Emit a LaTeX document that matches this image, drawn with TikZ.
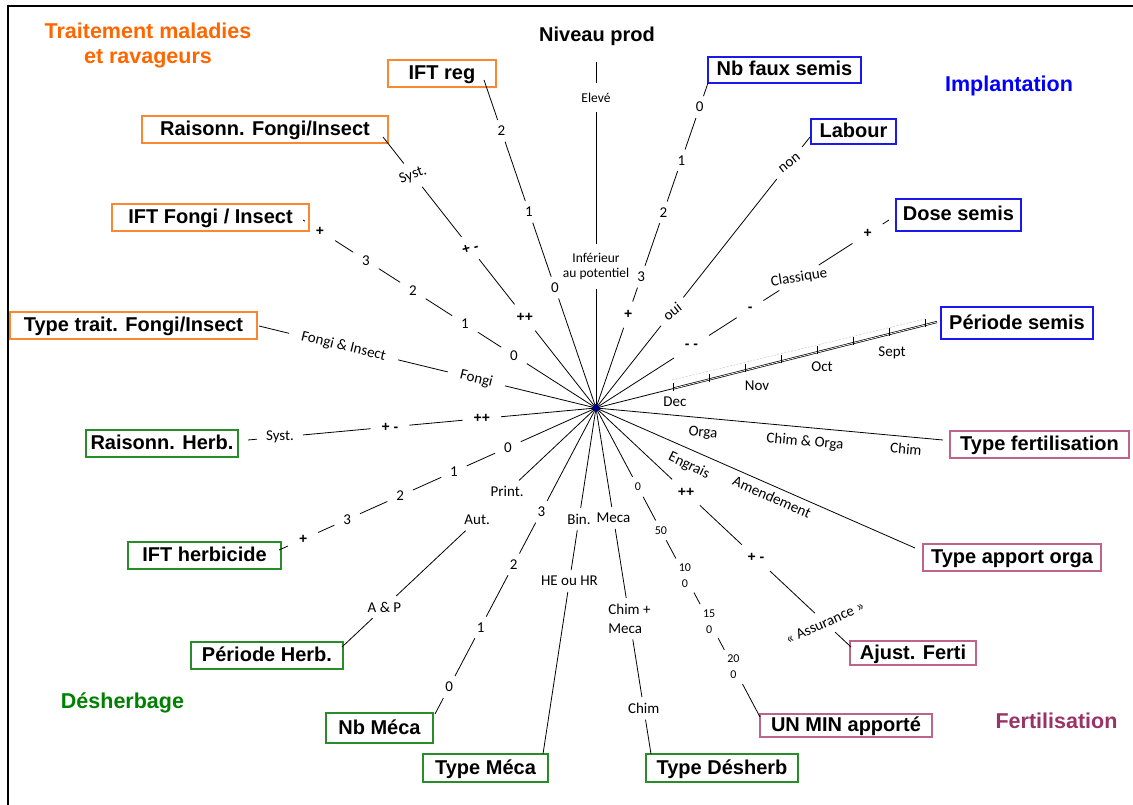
\documentclass[tikz,border=0pt]{standalone}
\usepackage{fontspec}
\setmainfont{Liberation Sans}
\newfontfamily\carl{Carlito}
\usetikzlibrary{calc,shapes.geometric}
\definecolor{orgT}{RGB}{255,102,0}
\definecolor{orgB}{RGB}{250,135,50}
\definecolor{bluT}{RGB}{0,0,255}
\definecolor{bluB}{RGB}{25,25,235}
\definecolor{grnT}{RGB}{0,128,0}
\definecolor{grnB}{RGB}{40,140,40}
\definecolor{ferT}{RGB}{153,51,102}
\definecolor{ferB}{RGB}{190,100,140}
\definecolor{ctrblue}{RGB}{0,0,128}
\begin{document}
\begin{tikzpicture}[x=1pt,y=-1pt,
  spoke/.style={line width=0.8pt},
  box/.style={draw, line width=1.1pt, font=\fontsize{20}{22}\selectfont\bfseries, inner sep=0pt, text height=15pt, text depth=3pt},
  lab/.style={font=\carl\fontsize{15}{17}\selectfont, inner sep=1pt, outer xsep=8pt, outer ysep=5pt},
  sml/.style={font=\carl\fontsize{13.5}{15}\selectfont, inner sep=1pt, outer xsep=9pt, outer ysep=8.5pt, align=center},
  tny/.style={font=\carl\fontsize{12}{16}\selectfont, inner sep=1pt, outer xsep=2pt, outer ysep=5pt, align=center},
  sgn/.style={font=\fontsize{14}{16}\selectfont\bfseries, inner sep=1pt, outer xsep=10pt, outer ysep=8pt},
  rlab/.style={font=\carl\fontsize{15}{17}\selectfont, inner sep=1pt, outer xsep=7pt, outer ysep=2pt},
  side/.style={font=\carl\fontsize{15}{17}\selectfont, inner sep=1pt},
  cat/.style={font=\fontsize{21.5}{25}\selectfont\bfseries, align=center},
]
\useasboundingbox (0,0) rectangle (1133,805);
\draw[line width=2.5pt] (8,812) -- (8,6) -- (1140,6);

% category titles
\node[cat, text=orgT] (tTrait) at (148,45) {Traitement maladies\\et ravageurs};
\node[cat, text=bluT] (tImpl) at (1009,86) {Implantation};
\node[cat, text=grnT] (tDesh) at (122.5,703) {Désherbage};
\node[cat, text=ferT] (tFert) at (1056.5,721) {Fertilisation};
\node[font=\fontsize{20}{22}\selectfont\bfseries] (tNiv) at (597,36.5) {Niveau prod};

% boxes
\node[box, draw=orgB, minimum width=108pt, minimum height=27pt] (bIFTreg) at (442,73.5) {IFT reg};
\node[box, draw=bluB, minimum width=153pt, minimum height=26pt] (bFaux) at (784.5,70) {Nb faux semis};
\node[box, draw=bluB, minimum width=85pt, minimum height=25pt] (bLabour) at (853.5,131.5) {Labour};
\node[box, draw=bluB, minimum width=125pt, minimum height=32pt] (bDose) at (958.5,215) {Dose semis};
\node[box, draw=bluB, minimum width=152pt, minimum height=32pt] (bPer) at (1017,323) {Période semis};
\node[box, draw=ferB, minimum width=179pt, minimum height=27pt] (bTypeF) at (1039.5,444.5) {Type fertilisation};
\node[box, draw=ferB, minimum width=178pt, minimum height=27pt] (bApport) at (1012,557.5) {Type apport orga};
\node[box, draw=ferB, minimum width=126pt, minimum height=24pt] (bAjust) at (913,653) {Ajust. Ferti};
\node[box, draw=ferB, minimum width=172pt, minimum height=23pt] (bUN) at (846,725.5) {UN MIN apporté};
\node[box, draw=grnB, minimum width=152pt, minimum height=28pt] (bTDes) at (722,768) {Type Désherb};
\node[box, draw=grnB, minimum width=125pt, minimum height=28pt] (bTMeca) at (485.5,768) {Type Méca};
\node[box, draw=grnB, minimum width=107pt, minimum height=30pt] (bNbMeca) at (379.5,728) {Nb Méca};
\node[box, draw=grnB, minimum width=152pt, minimum height=27pt] (bPHerb) at (267,655.5) {Période Herb.};
\node[box, draw=grnB, minimum width=153pt, minimum height=27pt] (bIFTH) at (204.5,555.5) {IFT herbicide};
\node[box, draw=grnB, minimum width=152pt, minimum height=27pt] (bRHerb) at (162,443.5) {Raisonn. Herb.};
\node[box, draw=orgB, minimum width=247pt, minimum height=27pt] (bTTrait) at (133.5,325.5) {Type trait. Fongi/Insect};
\node[box, draw=orgB, minimum width=197pt, minimum height=27pt] (bIFTF) at (210.5,217.5) {IFT Fongi / Insect};
\node[box, draw=orgB, minimum width=246pt, minimum height=27pt] (bRFongi) at (265,129.5) {Raisonn. Fongi/Insect};

% centre and spoke ends
\coordinate (C) at (596,408);
\coordinate (eA) at (596,62);
\coordinate (eB) at (708,83);
\coordinate (eC) at (810,137);
\coordinate (eD) at (889,220);
\coordinate (eE) at (937,322);
\coordinate (eF) at (943,440);
\coordinate (eG) at (915,548);
\coordinate (eH) at (851,647);
\coordinate (eI) at (760,717);
\coordinate (eJ) at (651,754);
\coordinate (eK) at (543,754);
\coordinate (eL) at (435,714);
\coordinate (eM) at (342,647);
\coordinate (eN) at (279,550);
\coordinate (eO) at (248,440);
\coordinate (eP) at (259,326);
\coordinate (eQ) at (303,220);
\coordinate (eR) at (383,137);
\coordinate (eS) at (484,80);

% A: Niveau prod
\node[sml] (a1) at ($(C)!0.409!(eA)$) {Inférieur\\au potentiel};
\node[sml] (a2) at ($(C)!0.897!(eA)$) {Elevé};
\draw[spoke] (C) -- (a1) -- (a2) -- (eA);

% B: Nb faux semis
\node[sgn] (b4) at ($(C)!0.287!(eB)$) {+};
\node[lab] (b3) at ($(C)!0.404!(eB)$) {3};
\node[lab] (b2) at ($(C)!0.602!(eB)$) {2};
\node[lab] (b1) at ($(C)!0.762!(eB)$) {1};
\node[lab] (b0) at ($(C)!0.926!(eB)$) {0};
\draw[spoke] (C) -- (b4) -- (b3) -- (b2) -- (b1) -- (b0) -- (eB);

% C: Labour
\node[rlab, rotate=38] (c1) at ($(C)!0.356!(eC)$) {oui};
\node[rlab, rotate=38] (c2) at ($(C)!0.904!(eC)$) {non};
\draw[spoke] (C) -- (c1) -- (c2) -- (eC);

% D: Dose semis
\node[sgn] (d1) at ($(C)!0.326!(eD)$) {- -};
\node[sgn] (d2) at ($(C)!0.526!(eD)$) {-};
\node[rlab, rotate=9, outer xsep=2pt, outer ysep=2pt] (d3) at ($(C)!0.693!(eD)$) {Classique};
\node[sgn] (d4) at ($(C)!0.927!(eD)$) {+};
\draw[spoke] (C) -- (d1) -- (d2) -- (d3) -- (d4) -- (eD);

% E: Periode semis
\foreach \k in {0,...,7} {
  \coordinate (tk\k) at ({673+36*\k},{388.6-9.08*\k});
}
\draw[spoke] (C) -- (tk0);
\draw[line width=0.7pt, double, double distance=0.7pt] (tk0) -- (eE);
\draw[gray!45, line width=0.5pt, dash pattern=on 2pt off 1.5pt] (672,380) -- (925,319);
\foreach \k in {0,...,7} {
  \draw[line width=0.8pt] (tk\k) ++(0,2) -- ++(0,-8);
}
\node[side] (mDec) at (675,402) {Dec};
\node[side] (mNov) at (757,386) {Nov};
\node[side] (mOct) at (822,367) {Oct};
\node[side] (mSept) at (892,353) {Sept};

% F: Type fertilisation
\draw[spoke] (C) -- (eF);
\node[side, rotate=-5] (fOrga) at (703,433) {Orga};
\node[side, rotate=-5] (fCO) at (805,442) {Chim \& Orga};
\node[side, rotate=-5] (fChim) at (906,449) {Chim};

% G: Type apport orga
\draw[spoke] (C) -- (eG);
\node[side, rotate=-26] (gEng) at (689,466) {Engrais};
\node[side, rotate=-24] (gAm) at (772,497) {Amendement};

% H: Ajust. Ferti
\node[sgn] (h1) at ($(C)!0.353!(eH)$) {++};
\node[sgn] (h2) at ($(C)!0.627!(eH)$) {+ -};
\node[rlab, rotate=24, outer xsep=2pt, outer ysep=7pt] (h3) at ($(C)!0.898!(eH)$) {«~Assurance~»};
\draw[spoke] (C) -- (h1) -- (h2) -- (h3) -- (eH);

% I: UN MIN apporte
\node[tny] (i0) at ($(C)!0.255!(eI)$) {0};
\node[tny] (i1) at ($(C)!0.396!(eI)$) {50};
\node[tny] (i2) at ($(C)!0.542!(eI)$) {10\\0};
\node[tny] (i3) at ($(C)!0.69!(eI)$) {15\\0};
\node[tny] (i4) at ($(C)!0.838!(eI)$) {20\\0};
\draw[spoke] (C) -- (i0) -- (i1) -- (i2) -- (i3) -- (i4) -- (eI);

% J: Type Desherb
\node[lab] (j1) at ($(C)!0.318!(eJ)$) {Meca};
\node[lab, align=left, font=\carl\fontsize{15}{19}\selectfont] (j2) at ($(C)!0.609!(eJ)$) {Chim +\\Meca};
\node[lab] (j3) at ($(C)!0.868!(eJ)$) {Chim};
\draw[spoke] (C) -- (j1) -- (j2) -- (j3) -- (eJ);

% K: Type Meca
\node[lab] (k1) at ($(C)!0.321!(eK)$) {Bin.};
\node[lab] (k2) at ($(C)!0.5!(eK)$) {HE ou HR};
\draw[spoke] (C) -- (k1) -- (k2) -- (eK);

% L: Nb Meca
\node[lab] (l3) at ($(C)!0.339!(eL)$) {3};
\node[lab] (l2) at ($(C)!0.511!(eL)$) {2};
\node[lab] (l1) at ($(C)!0.717!(eL)$) {1};
\node[lab] (l0) at ($(C)!0.912!(eL)$) {0};
\draw[spoke] (C) -- (l3) -- (l2) -- (l1) -- (l0) -- (eL);

% M: Periode Herb.
\node[lab] (m1) at ($(C)!0.35!(eM)$) {Print.};
\node[lab] (m2) at ($(C)!0.468!(eM)$) {Aut.};
\node[lab] (m3) at ($(C)!0.833!(eM)$) {A \& P};
\draw[spoke] (C) -- (m1);
\draw[spoke] (m2) -- (m3) -- (eM);

% N: IFT herbicide
\node[lab] (n0) at ($(C)!0.278!(eN)$) {0};
\node[lab] (n1) at ($(C)!0.448!(eN)$) {1};
\node[lab] (n2) at ($(C)!0.618!(eN)$) {2};
\node[lab] (n3) at ($(C)!0.785!(eN)$) {3};
\node[sgn] (n4) at ($(C)!0.924!(eN)$) {+};
\draw[spoke] (C) -- (n0) -- (n1) -- (n2) -- (n3) -- (n4) -- (eN);

% O: Raisonn. Herb.
\node[sgn] (o1) at ($(C)!0.328!(eO)$) {++};
\node[sgn] (o2) at ($(C)!0.592!(eO)$) {+ -};
\node[lab] (o3) at ($(C)!0.908!(eO)$) {Syst.};
\draw[spoke] (C) -- (o1) -- (o2) -- (o3) -- (eO);

% P: Type trait.
\node[rlab, rotate=-13.7, outer xsep=12pt] (p1) at ($(C)!0.355!(eP)$) {Fongi};
\node[rlab, rotate=-13.7, outer xsep=12pt] (p2) at ($(C)!0.749!(eP)$) {Fongi \& Insect};
\draw[spoke] (C) -- (p1) -- (p2) -- (eP);

% Q: IFT Fongi / Insect
\node[lab] (q0) at ($(C)!0.28!(eQ)$) {0};
\node[lab] (q1) at ($(C)!0.447!(eQ)$) {1};
\node[lab] (q2) at ($(C)!0.625!(eQ)$) {2};
\node[lab] (q3) at ($(C)!0.785!(eQ)$) {3};
\node[sgn] (q4) at ($(C)!0.942!(eQ)$) {+};
\draw[spoke] (C) -- (q0) -- (q1) -- (q2) -- (q3) -- (q4) -- (eQ);

% R: Raisonn. Fongi/Insect
\node[sgn] (r1) at ($(C)!0.334!(eR)$) {++};
\node[sgn, rotate=15] (r2) at ($(C)!0.59!(eR)$) {+ -};
\node[rlab, rotate=20, outer xsep=2pt, outer ysep=7pt] (r3) at ($(C)!0.859!(eR)$) {Syst.};
\draw[spoke] (C) -- (r1) -- (r2) -- (r3) -- (eR);

% S: IFT reg
\node[lab] (s0) at ($(C)!0.367!(eS)$) {0};
\node[lab] (s1) at ($(C)!0.598!(eS)$) {1};
\node[lab] (s2) at ($(C)!0.845!(eS)$) {2};
\draw[spoke] (C) -- (s0) -- (s1) -- (s2) -- (eS);

% centre
\node[diamond, fill=ctrblue, inner sep=0pt, minimum size=9pt] (ctr) at (C) {};
\end{tikzpicture}
\end{document}
